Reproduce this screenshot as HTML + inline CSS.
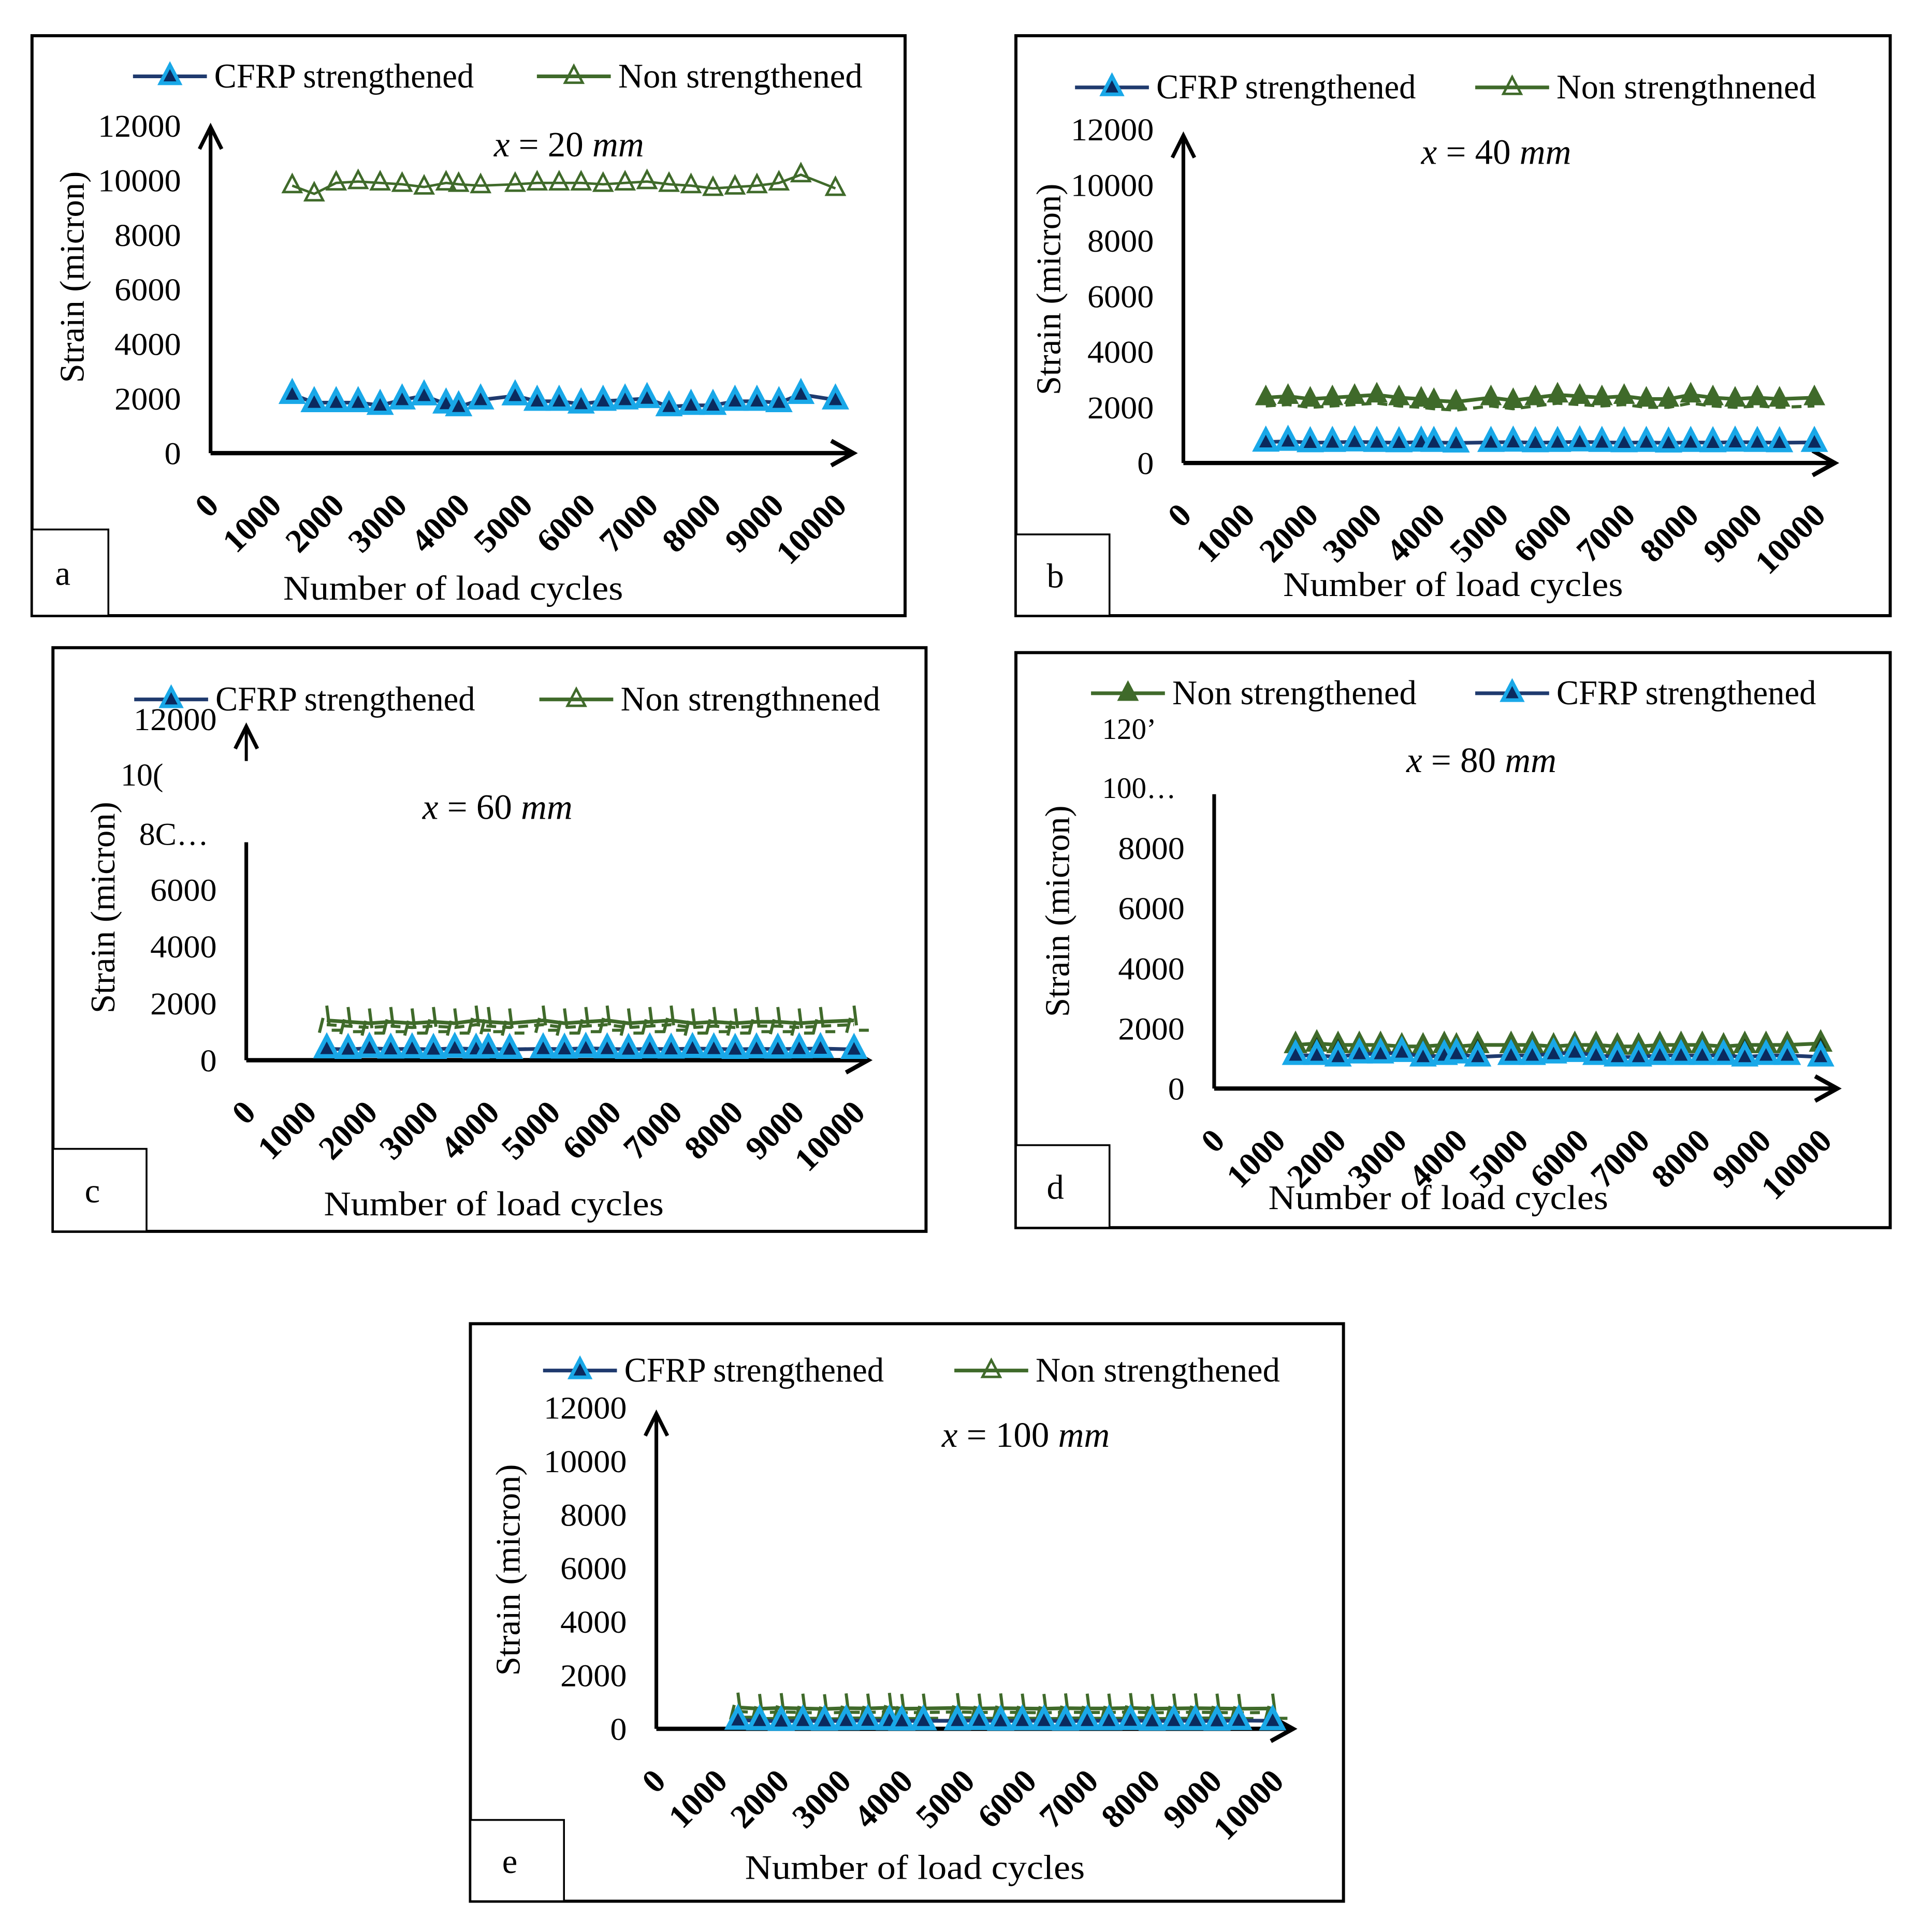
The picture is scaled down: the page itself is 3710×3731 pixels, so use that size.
<!DOCTYPE html>
<html><head><meta charset="utf-8"><style>
html,body{margin:0;padding:0;background:#fff;}
svg{display:block;font-family:"Liberation Serif",serif;}
</style></head><body>
<svg id="fig" width="3710" height="3731" viewBox="0 0 1560 1569" preserveAspectRatio="none" xmlns="http://www.w3.org/2000/svg"></svg>
<script>
// ---- data ----
const cycles = [1300,1650,2000,2350,2700,3050,3400,3750,3950,4300,4850,5200,5550,5900,6250,6600,6950,7300,7650,8000,8350,8700,9050,9400,9950];
const xTickLabels = ["0","1000","2000","3000","4000","5000","6000","7000","8000","9000","10000"];
const yTickValues = [0,2000,4000,6000,8000,10000,12000];
const cfrpA = [2150,1850,1850,1850,1750,1950,2100,1800,1700,1950,2100,1900,1900,1800,1900,1950,2000,1700,1750,1750,1900,1900,1850,2150,1950];
const nonA  = [9800,9500,9900,9950,9900,9850,9750,9900,9850,9800,9850,9900,9900,9900,9850,9900,9950,9850,9800,9700,9750,9800,9900,10200,9700];
const cfrpB = [750,780,730,740,760,740,730,750,740,720,740,750,730,740,760,740,730,740,720,740,730,750,740,730,740];
const nonB  = [2350,2400,2300,2350,2400,2450,2350,2300,2250,2200,2350,2250,2350,2450,2400,2350,2400,2300,2300,2450,2350,2300,2350,2300,2350];
const cfrpC = [400,380,420,390,400,380,420,390,400,380,400,390,420,400,380,400,390,410,400,380,400,390,400,410,380];
const nonC  = [1400,1350,1300,1350,1300,1350,1300,1400,1350,1300,1400,1300,1350,1400,1300,1350,1400,1300,1350,1300,1350,1350,1300,1350,1400];
const cfrpD = [1100,1100,1050,1150,1150,1200,1050,1100,1150,1050,1100,1100,1150,1200,1100,1050,1050,1100,1100,1100,1100,1050,1100,1100,1050];
const nonD  = [1450,1500,1450,1450,1450,1400,1400,1450,1400,1450,1450,1450,1400,1450,1450,1400,1400,1450,1450,1450,1400,1450,1450,1450,1500];
const cfrpE = [320,300,280,300,290,300,310,300,290,300,300,310,290,300,300,290,300,300,310,290,300,300,290,310,300];
const nonE  = [800,750,780,760,740,770,760,790,750,760,780,760,770,760,750,770,760,760,780,750,760,770,760,750,760];

const NS = "http://www.w3.org/2000/svg";
const svg = document.getElementById("fig");
function el(tag, attrs, parent, text){
  const e = document.createElementNS(NS, tag);
  for (const k in attrs) e.setAttribute(k, attrs[k]);
  if (text !== undefined) e.textContent = text;
  (parent || svg).appendChild(e);
  return e;
}
function tri(g, x, y, size, fill, stroke, sw){
  const h = size, w = size*1.1;
  return el("polygon", {points:`${x},${y-h*0.65} ${x-w/2},${y+h*0.4} ${x+w/2},${y+h*0.4}`, fill:fill, stroke:stroke, "stroke-width":sw}, g);
}

const panels = [
  {id:"a", box:[26,29,709,471], ax:171, y0:368, y12:102, yTop:103, yGapTop:null, x0:171, xEnd:693, lab0:165, lab10:675, title:"20", tx:462, ty:127,
   leg:[["cfrp",108,62,"CFRP strengthened"],["non",436,62,"Non strengthened"]], cfrp:cfrpA, non:nonA, nonStyle:"hollow", lbl:[26,430,62,70], xt:[368,487], yt:[60,225], skip:[]},
  {id:"b", box:[825,29,710,471], ax:961, y0:376, y12:105, yTop:110, yGapTop:null, x0:961, xEnd:1490, lab0:955, lab10:1470, title:"40", tx:1215, ty:133,
   leg:[["cfrp",873,71,"CFRP strengthened"],["non",1198,71,"Non strengthnened"]], cfrp:cfrpB, non:nonB, nonStyle:"dashed", lbl:[825,434,76,66], xt:[1180,484], yt:[853,235], skip:[]},
  {id:"c", box:[43,526,709,474], ax:200, y0:861, y12:584, yTop:590, yGapTop:684, x0:200, xEnd:705, lab0:195, lab10:690, title:"60", tx:404, ty:665,
   leg:[["cfrp",109,568,"CFRP strengthened"],["non",438,568,"Non strengthnened"]], cfrp:cfrpC, non:nonC, nonStyle:"tick", lbl:[43,933,76,67], xt:[401,987], yt:[85,737], skip:[8000,10000]},
  {id:"d", box:[825,530,710,467], ax:986, y0:884, y12:591, yTop:null, yGapTop:645, x0:986, xEnd:1492, lab0:982, lab10:1475, title:"80", tx:1203, ty:627,
   leg:[["non",886,563,"Non strengthened"],["cfrp",1198,563,"CFRP strengthened"]], cfrp:cfrpD, non:nonD, nonStyle:"filled", lbl:[825,930,76,67], xt:[1168,982], yt:[860,740], skip:[10000,12000]},
  {id:"e", box:[382,1075,709,469], ax:533, y0:1404, y12:1143, yTop:1148, yGapTop:null, x0:533, xEnd:1050, lab0:528, lab10:1030, title:"100", tx:833, ty:1175,
   leg:[["cfrp",441,1113,"CFRP strengthened"],["non",775,1113,"Non strengthened"]], cfrp:cfrpE, non:nonE, nonStyle:"tick", lbl:[382,1478,76,66], xt:[743,1526], yt:[414,1275], skip:[]}
];

panels.forEach(p => {
  const g = el("g", {});
  
  
  const fr = el("rect", {x:p.box[0], y:p.box[1], width:p.box[2], height:p.box[3], fill:"#fff", stroke:"#000", "stroke-width":2.5}, g);
  
  

  const yS = v => p.y0 - (v/12000)*(p.y0 - p.y12);
  const xS = v => p.lab0 + (v/10000)*(p.lab10 - p.lab0) + 6;

  yTickValues.forEach(v => {
    if (p.skip.indexOf(v) >= 0) return;
    const t = el("text", {x:p.ax-24, y:yS(v)+9, "text-anchor":"end", "font-size":26, "textLength":String(v).length*13.5, "lengthAdjust":"spacingAndGlyphs"}, g, String(v));
    
    
  });
  if (p.id === "c"){ el("text",{x:98,y:638,"font-size":26},g,"10("); el("text",{x:113,y:686,"font-size":26},g,"8C\u2026"); }
  if (p.id === "d"){ el("text",{x:895,y:600,"font-size":24},g,"120\u2019"); el("text",{x:895,y:648,"font-size":24},g,"100\u2026"); }

  const yTopLine = p.yGapTop !== null ? p.yGapTop : p.yTop;
  const ya = el("line", {x1:p.ax, y1:p.y0, x2:p.ax, y2:yTopLine, stroke:"#000", "stroke-width":3}, g);
  
  
  if (p.yTop !== null){
    if (p.yGapTop !== null) el("line",{x1:p.ax,y1:p.yTop+28,x2:p.ax,y2:p.yTop,stroke:"#000","stroke-width":2.5},g);
    el("polyline",{points:`${p.ax-9},${p.yTop+18} ${p.ax},${p.yTop} ${p.ax+9},${p.yTop+18}`,fill:"none",stroke:"#000","stroke-width":3},g);
  }
  const xa = el("line", {x1:p.ax, y1:p.y0, x2:p.xEnd, y2:p.y0, stroke:"#000", "stroke-width":3.5}, g);
  
  
  el("polyline",{points:`${p.xEnd-18},${p.y0-10} ${p.xEnd},${p.y0} ${p.xEnd-18},${p.y0+10}`,fill:"none",stroke:"#000","stroke-width":3.5},g);

  xTickLabels.forEach((lab, i) => {
    const x = p.lab0 + i*(p.lab10 - p.lab0)/10;
    const y = p.y0 + 44;
    const t = el("text", {x:x+14, y:y, "text-anchor":"end", "font-size":27, "font-weight":"bold", transform:`rotate(-45 ${x+14} ${y})`}, g, lab);
    
    
  });

  const xt = el("text", {x:p.xt[0], y:p.xt[1], "text-anchor":"middle", "font-size":28, "textLength":276, "lengthAdjust":"spacingAndGlyphs"}, g, "Number of load cycles");
  
  
  const yt = el("text", {x:p.yt[0]+8, y:p.yt[1], "text-anchor":"middle", "font-size":28, transform:`rotate(-90 ${p.yt[0]+8} ${p.yt[1]})`}, g, "Strain (micron)");
  
  
  const tt = el("text", {x:p.tx, y:p.ty, "text-anchor":"middle", "font-size":29, "font-style":"italic"}, g);
  
  
  el("tspan",{},tt,"x");
  el("tspan",{"font-style":"normal"},tt," = "+p.title+" ");
  el("tspan",{},tt,"mm");

  const lb = el("rect", {x:p.lbl[0], y:p.lbl[1], width:p.lbl[2], height:p.lbl[3], fill:"#fff", stroke:"#000", "stroke-width":1.5}, g);
  
  
  const lt = el("text", {x:p.lbl[0]+p.lbl[2]/2-6, y:p.lbl[1]+p.lbl[3]/2+10, "text-anchor":"middle", "font-size":28}, g, p.id);
  
  

  p.leg.forEach(L => {
    const [kind, lx, ly, text] = L;
    const lg = el("g", {}, g);
    
    
    if (kind === "cfrp"){
      el("line",{x1:lx,y1:ly,x2:lx+60,y2:ly,stroke:"#1f3a6e","stroke-width":3},lg);
      tri(lg, lx+30, ly, 14, "#0b2a5e", "#19a8e8", 3);
    } else {
      el("line",{x1:lx,y1:ly,x2:lx+60,y2:ly,stroke:"#3f6a2a","stroke-width":3},lg);
      tri(lg, lx+30, ly, 13, p.nonStyle==="filled"?"#3f6a2a":"none", "#3f6a2a", 2);
    }
    el("text",{x:lx+66,y:ly+9,"font-size":28,"textLength":text.length*12.4,"lengthAdjust":"spacingAndGlyphs"},lg,text);
  });

  const sn = el("g", {}, g);
  
  
  const nPts = cycles.map((c,i)=>`${xS(c)},${yS(p.non[i])}`).join(" ");
  if (p.nonStyle === "dashed" || p.nonStyle === "tick"){
    const off = p.nonStyle==="dashed" ? 300 : 150;
    el("polyline",{points:cycles.map((c,i)=>`${xS(c)},${yS(p.non[i]-off)}`).join(" "),fill:"none",stroke:"#3f6a2a","stroke-width":2.5,"stroke-dasharray":"8 5"},sn);
  }
  el("polyline",{points:nPts,fill:"none",stroke:"#3f6a2a","stroke-width":p.nonStyle==="hollow"?2:3},sn);
  cycles.forEach((c,i)=>{
    const x = xS(c), y = yS(p.non[i]);
    if (p.nonStyle === "tick"){
      const t = el("path",{d:`M${x-6},${y+10} L${x-3},${y-2} M${x},${y-12} L${x+2},${y+4} M${x+4},${y+8} L${x+12},${y+8}`,stroke:"#3f6a2a","stroke-width":2.5,fill:"none"},sn);
      
      
    } else {
      const m = tri(sn, x, y, 13, p.nonStyle==="filled"?"#1d3a18":(p.nonStyle==="dashed"?"#3f6a2a":"none"), "#3f6a2a", p.nonStyle==="filled"?3:2);
      
      
    }
  });

  const sc = el("g", {}, g);
  
  
  el("polyline",{points:cycles.map((c,i)=>`${xS(c)},${yS(p.cfrp[i])}`).join(" "),fill:"none",stroke:"#1f3a6e","stroke-width":3},sc);
  cycles.forEach((c,i)=>{
    const m = tri(sc, xS(c), yS(p.cfrp[i]), 15, "#0b2a5e", "#19a8e8", 3.5);
    
    
  });
});
</script>
</body></html>
